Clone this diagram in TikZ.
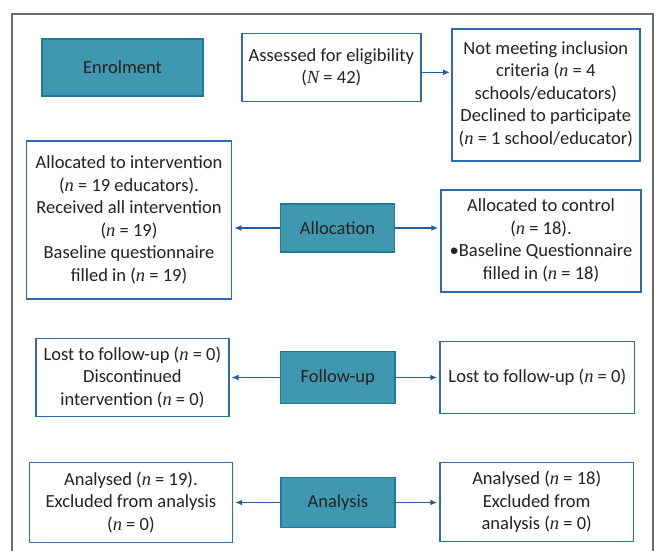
\documentclass[tikz,border=0pt]{standalone}
\usepackage{fontspec}
\setmainfont{Carlito}
\newfontfamily\serifit{Liberation Serif}
\usetikzlibrary{arrows.meta}
\definecolor{boxblue}{HTML}{2E6DA8}
\definecolor{arrowblue}{HTML}{1F5FA3}
\definecolor{tealfill}{HTML}{3F98B0}
\definecolor{tealdraw}{HTML}{1E7A98}
\definecolor{framegray}{HTML}{6A6A6A}
\definecolor{txt}{HTML}{222222}
\newcommand{\nit}{{\serifit\itshape n}}
\newcommand{\Nit}{{\serifit\itshape N}}
\tikzset{
  wbox/.style={draw=boxblue, line width=1.5pt, fill=white, align=center, inner sep=0pt, text=txt,
    font=\fontsize{18.5}{22.5}\selectfont},
  tbox/.style={draw=tealdraw, line width=1.5pt, fill=tealfill, align=center, inner sep=0pt, text=txt,
    font=\fontsize{18.5}{22.5}\selectfont},
  arr/.style={draw=arrowblue, line width=1.4pt, -{Latex[length=7pt,width=6pt]}, shorten >=2pt}
}
\begin{document}
\begin{tikzpicture}[x=1pt,y=-1pt]
\useasboundingbox (0,0) rectangle (657,550);
\draw[framegray, line width=1.6pt] (11.7,552) -- (11.7,14) -- (653,14) -- (653,552);
% Enrolment row
\node[tbox, minimum width=161pt, minimum height=57pt] (enrol) at (122.5,67.5) {Enrolment};
\node[wbox, minimum width=179pt, minimum height=68pt] (ass) at (331.3,67.5) {Assessed for eligibility\\(\Nit{} = 42)};
\node[wbox, minimum width=188pt, minimum height=132pt] (nm) at (545.8,94.8) {\raisebox{-1pt}{\begin{tabular}{@{}c@{}}Not meeting inclusion\\criteria (\nit{} = 4\\schools/educators)\\Declined to participate\\(\nit{} = 1 school/educator)\end{tabular}}};
% Allocation row
\node[wbox, minimum width=205pt, minimum height=158pt] (inter) at (129,220) {Allocated to intervention\\(\nit{} = 19 educators).\\Received all intervention\\(\nit{} = 19)\\Baseline questionnaire\\filled in (\nit{} = 19)};
\node[tbox, minimum width=114pt, minimum height=48pt] (alloc) at (337.5,228) {Allocation};
\node[wbox, minimum width=200pt, minimum height=102pt] (ctrl) at (541,241) {\raisebox{3pt}{\begin{tabular}{@{}c@{}}Allocated to control\\(\nit{} = 18).\\•Baseline Questionnaire\\filled in (\nit{} = 18)\end{tabular}}};
% Follow-up row
\node[wbox, minimum width=192.7pt, minimum height=78.4pt] (fl) at (132.4,377.5) {Lost to follow-up (\nit{} = 0)\\Discontinued\\intervention (\nit{} = 0)};
\node[tbox, minimum width=114.3pt, minimum height=51.6pt] (fu) at (337.8,377.5) {Follow-up};
\node[wbox, minimum width=194.5pt, minimum height=71.6pt] (fr) at (537.3,377.5) {Lost to follow-up (\nit{} = 0)};
% Analysis row
\node[wbox, minimum width=203pt, minimum height=80.4pt] (al) at (130.9,502.5) {Analysed (\nit{} = 19).\\Excluded from analysis\\(\nit{} = 0)};
\node[tbox, minimum width=114pt, minimum height=50pt] (an) at (337.8,502.5) {Analysis};
\node[wbox, minimum width=193.3pt, minimum height=79pt] (ar) at (536.7,502.2) {Analysed (\nit{} = 18)\\Excluded from\\analysis (\nit{} = 0)};
% Connectors
\draw[arr, shorten >=1pt] ([yshift=-4.8pt]ass.east) -- ([yshift=-4.8pt]ass.east -| nm.west);
\draw[arr] (alloc.west) -- (alloc.west -| inter.east);
\draw[arr] (alloc.east) -- (alloc.east -| ctrl.west);
\draw[arr] (fu.west) -- (fu.west -| fl.east);
\draw[arr] (fu.east) -- (fu.east -| fr.west);
\draw[arr] (an.west) -- (an.west -| al.east);
\draw[arr] (an.east) -- (an.east -| ar.west);
\end{tikzpicture}
\end{document}
